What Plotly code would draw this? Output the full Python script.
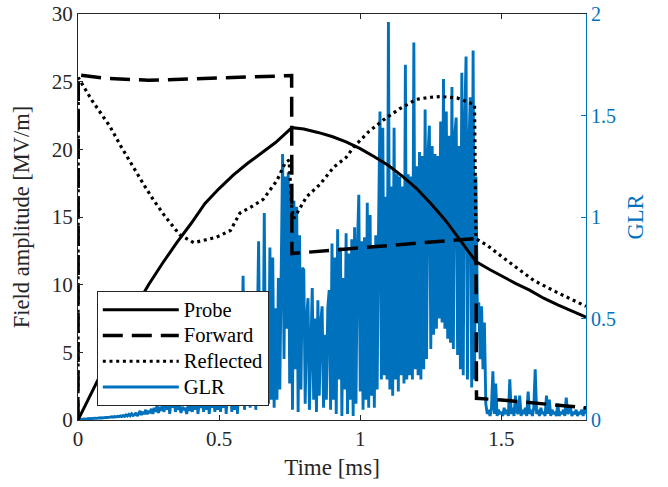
import numpy as np
import plotly.graph_objects as go

# ---------------- data ----------------
t_probe = [0, 0.05, 0.1, 0.15, 0.2, 0.25, 0.3, 0.35, 0.4, 0.45, 0.5, 0.55, 0.6, 0.65,
           0.7, 0.758, 0.8, 0.85, 0.9, 0.95, 1.0, 1.05, 1.1, 1.15, 1.2, 1.25, 1.3,
           1.35, 1.41, 1.46, 1.5, 1.55, 1.6, 1.65, 1.7, 1.75, 1.8]
probe = [0, 2.1, 4.2, 6.3, 8.2, 10.0, 11.6, 13.1, 14.5, 16.0, 17.1, 18.1, 18.95, 19.7,
         20.5, 21.6, 21.5, 21.25, 20.95, 20.55, 20.05, 19.45, 18.8, 18.0, 17.1, 16.0, 14.8,
         13.4, 11.7, 11.1, 10.65, 10.1, 9.6, 9.0, 8.5, 8.05, 7.6]

t_forward = [0, 0.001, 0.1, 0.25, 0.4, 0.55, 0.757, 0.758, 0.98, 1.34, 1.41, 1.412,
             1.5, 1.61, 1.72, 1.8]
forward = [0, 25.5, 25.25, 25.1, 25.2, 25.3, 25.45, 12.3, 12.7, 13.3, 13.4, 1.6,
           1.48, 1.27, 1.03, 0.9]

t_reflected = [0, 0.001, 0.05, 0.113, 0.15, 0.195, 0.23, 0.266, 0.31, 0.36, 0.41, 0.45,
               0.49, 0.54, 0.574, 0.61, 0.656, 0.705, 0.734, 0.748, 0.758, 0.765, 0.81,
               0.857, 0.907, 0.95, 0.978, 1.03, 1.084, 1.14, 1.2, 1.25, 1.286, 1.343,
               1.405, 1.41, 1.45, 1.5, 1.616, 1.7, 1.8]
reflected = [0, 25.3, 23.6, 21.7, 20.3, 18.7, 17.5, 16.3, 15.0, 13.7, 13.1, 13.3,
             13.5, 14.0, 15.3, 15.7, 16.3, 17.7, 19.0, 19.2, 15.5, 14.9, 16.5,
             17.4, 18.7, 19.4, 20.2, 21.3, 22.2, 23.0, 23.7, 23.85, 23.9, 23.8,
             23.3, 13.4, 12.9, 12.1, 10.3, 9.4, 8.4]

glr_step = 0.005  # ms between GLR samples
glr = [
    # 0.00 - 0.095
    0, 0.002, 0.004, 0.003, 0.005, 0.004, 0.006, 0.005, 0.007, 0.006,
    0.008, 0.007, 0.009, 0.008, 0.010, 0.009, 0.011, 0.010, 0.012, 0.011,
    # 0.10 - 0.195
    0.013, 0.012, 0.014, 0.013, 0.016, 0.014, 0.017, 0.015, 0.018, 0.016,
    0.02, 0.017, 0.022, 0.018, 0.025, 0.02, 0.028, 0.021, 0.03, 0.022,
    # 0.20 - 0.295
    0.025, 0.035, 0.02, 0.03, 0.045, 0.025, 0.04, 0.03, 0.05, 0.028,
    0.045, 0.035, 0.055, 0.03, 0.06, 0.04, 0.07, 0.035, 0.065, 0.045,
    # 0.30 - 0.395
    0.075, 0.04, 0.09, 0.05, 0.11, 0.03, 0.1, 0.06, 0.12, 0.04,
    0.08, 0.05, 0.07, 0.035, 0.065, 0.05, 0.06, 0.03, 0.07, 0.045,
    # 0.40 - 0.495
    0.08, 0.04, 0.1, 0.05, 0.13, 0.03, 0.09, 0.06, 0.12, 0.04,
    0.11, 0.05, 0.15, 0.03, 0.1, 0.06, 0.14, 0.04, 0.12, 0.05,
    # 0.50 - 0.595
    0.16, 0.04, 0.13, 0.06, 0.2, 0.03, 0.15, 0.07, 0.22, 0.04,
    0.18, 0.05, 0.28, 0.03, 0.2, 0.08, 0.3, 0.71, 0.05, 0.25,
    # 0.60 - 0.695
    0.1, 0.4, 0.06, 0.45, 0.08, 0.5, 0.05, 0.42, 0.88, 0.1,
    0.55, 0.07, 1.02, 0.12, 0.6, 0.08, 0.85, 0.1, 0.8, 0.06,
    # 0.70 - 0.795
    0.55, 0.1, 0.7, 0.15, 0.75, 1.31, 0.3, 1.2, 0.45, 1.22,
    0.18, 1.15, 0.05, 1.08, 0.25, 1.05, 0.04, 0.91, 0.15, 0.75,
    # 0.80 - 0.895
    0.74, 0.08, 0.5, 0.6, 0.05, 0.45, 0.65, 0.1, 0.5, 0.04,
    0.59, 0.12, 0.48, 0.56, 0.06, 0.42, 0.1, 0.55, 0.64, 0.05,
    # 0.90 - 0.995
    0.87, 0.1, 0.8, 0.03, 0.94, 0.2, 0.85, 0.02, 0.7, 0.15,
    0.92, 0.03, 0.82, 0.1, 0.89, 0.02, 0.95, 0.08, 0.85, 1.11,
    # 1.00 - 1.095
    0.14, 0.88, 0.05, 0.9, 0.1, 1.07, 0.06, 1.01, 0.12, 0.85,
    0.06, 0.91, 0.15, 0.95, 1.52, 0.2, 1.44, 0.22, 1.1, 0.2,
    # 1.10 - 1.195
    1.96, 0.15, 1.15, 0.12, 1.44, 0.2, 1.21, 0.14, 1.2, 0.22,
    1.15, 0.18, 1.75, 0.2, 1.21, 0.22, 1.2, 0.2, 1.86, 0.25,
    # 1.20 - 1.295
    1.25, 0.22, 1.32, 0.2, 1.3, 0.25, 1.53, 0.3, 1.3, 1.45,
    0.35, 1.35, 0.42, 1.31, 0.45, 1.3, 0.5, 1.47, 0.48, 1.68,
    # 1.30 - 1.395
    0.45, 1.52, 0.4, 1.4, 0.38, 1.64, 0.35, 1.4, 1.49, 0.32,
    1.35, 0.25, 1.71, 0.22, 1.45, 1.79, 0.2, 1.35, 1.59, 0.16,
    # 1.40 - 1.495
    1.82, 0.2, 1.2, 0.55, 0.58, 0.3, 0.56, 0.25, 0.48, 0.08,
    0.03, 0.05, 0.02, 0.06, 0.24, 0.03, 0.18, 0.02, 0.05, 0.03,
    # 1.50 - 1.595
    0.04, 0.02, 0.06, 0.03, 0.05, 0.02, 0.2, 0.03, 0.06, 0.02,
    0.12, 0.04, 0.03, 0.12, 0.02, 0.05, 0.03, 0.06, 0.02, 0.14,
    # 1.60 - 1.695
    0.03, 0.05, 0.02, 0.06, 0.25, 0.03, 0.05, 0.02, 0.06, 0.03,
    0.04, 0.02, 0.12, 0.03, 0.1, 0.02, 0.05, 0.03, 0.04, 0.02,
    # 1.70 - 1.795
    0.08, 0.02, 0.04, 0.03, 0.05, 0.02, 0.11, 0.03, 0.04, 0.06,
    0.02, 0.04, 0.03, 0.05, 0.02, 0.04, 0.03, 0.05, 0.02, 0.065,
    # 1.80
    0.03,
]
t_glr = np.round(np.arange(len(glr)) * glr_step, 4)

x_ticks = [0, 0.5, 1, 1.5]
x_ticklabels = ["0", "0.5", "1", "1.5"]
field_ticks = [0, 5, 10, 15, 20, 25, 30]
glr_ticks = [0, 0.5, 1, 1.5, 2]
glr_ticklabels = ["0", "0.5", "1", "1.5", "2"]
legend_names = ["Probe", "Forward", "Reflected", "GLR"]

# ---------------- figure ----------------
FONT = "Liberation Serif, Times New Roman, serif"
BLUE = "#0072BD"
AX = "#262626"


def lg(name):
    return '<span style="font-size:20.5px">' + name + "</span>"


fig = go.Figure()
fig.add_trace(go.Scatter(x=t_probe, y=probe, name=lg(legend_names[0]), mode="lines",
                         line=dict(color="black", width=3), yaxis="y2"))
fig.add_trace(go.Scatter(x=t_forward, y=forward, name=lg(legend_names[1]), mode="lines",
                         line=dict(color="black", width=3.5, dash="20px,9px"), yaxis="y2"))
fig.add_trace(go.Scatter(x=t_reflected, y=reflected, name=lg(legend_names[2]), mode="lines",
                         line=dict(color="black", width=3.2, dash="3px,3.7px"), yaxis="y2"))
fig.add_trace(go.Scatter(x=t_glr, y=glr, name=lg(legend_names[3]), mode="lines",
                         line=dict(color=BLUE, width=2.9), yaxis="y"))

fig.update_layout(
    width=668, height=487,
    margin=dict(l=78, r=82, t=14, b=67),
    paper_bgcolor="white", plot_bgcolor="white",
    font=dict(family=FONT, size=21, color=AX),
    showlegend=True,
    legend=dict(x=0.037, y=0.318, xanchor="left", yanchor="top",
                bgcolor="white", bordercolor=AX, borderwidth=1,
                font=dict(family=FONT, size=17.5, color="black"),
                itemwidth=76, tracegroupgap=0),
    xaxis=dict(range=[0, 1.8], tickvals=x_ticks, ticktext=x_ticklabels,
               ticks="inside", ticklen=5, tickcolor=AX, showline=True,
               linecolor=AX, linewidth=1, mirror="ticks", showgrid=False,
               zeroline=False, automargin=False, ticklabeloverflow="allow",
               title=dict(text="Time [ms]", font=dict(size=23), standoff=8)),
    yaxis=dict(range=[0, 2], side="right", tickvals=glr_ticks, ticktext=glr_ticklabels,
               ticks="inside", ticklen=5, tickcolor=BLUE, showline=True,
               linecolor=BLUE, linewidth=1, showgrid=False, zeroline=False,
               color=BLUE, automargin=False, ticklabeloverflow="allow",
               tickfont=dict(color=BLUE, size=20),
               title=dict(text="GLR", font=dict(size=22.5, color=BLUE), standoff=12)),
    yaxis2=dict(range=[0, 30], side="left", overlaying="y", tickvals=field_ticks,
                ticks="inside", ticklen=5, tickcolor=AX, showline=True,
                linecolor=AX, linewidth=1, showgrid=False, zeroline=False,
                automargin=False, ticklabeloverflow="allow",
                title=dict(text="Field amplitude [MV/m]", font=dict(size=22.5), standoff=15)),
)

fig.write_html("out.html", config={"displayModeBar": False},
               post_script="document.body.style.margin='0px';")
